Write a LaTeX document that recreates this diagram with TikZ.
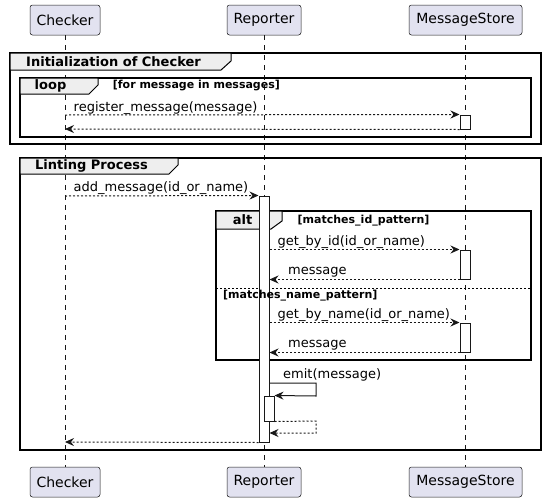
\documentclass[tikz,border=0pt]{standalone}
\usepackage{fontspec}
\setmainfont{DejaVu Sans}
\usetikzlibrary{arrows.meta}
\definecolor{partfill}{HTML}{E2E2F0}
\definecolor{ink}{HTML}{181818}
\definecolor{tabfill}{HTML}{EEEEEE}
\begin{document}
\begin{tikzpicture}[x=1pt,y=-1pt,
  part/.style={draw=ink, fill=partfill, rounded corners=2.5pt, line width=0.5pt, minimum height=30pt, inner sep=0pt, font=\fontsize{14}{16}\selectfont},
  life/.style={draw=ink, line width=0.5pt, dash pattern=on 5pt off 5pt},
  act/.style={draw=ink, fill=white, line width=1pt, inner sep=0pt, minimum width=10pt},
  frameb/.style={draw=black, line width=1.5pt},
  tabb/.style={draw=black, fill=tabfill, line width=1pt},
  ftitle/.style={font=\bfseries\fontsize{13}{15}\selectfont, inner sep=0pt},
  guard/.style={font=\bfseries\fontsize{11}{13}\selectfont, inner sep=0pt, anchor=west},
  msgtxt/.style={font=\fontsize{13}{15}\selectfont, inner sep=0pt, anchor=base west},
  tipstyle/.style={-{Stealth[length=9pt,width=8pt,inset=3pt]}},
  msg/.style={draw=ink, line width=1pt, dash pattern=on 2pt off 2pt, tipstyle},
  msgsolid/.style={draw=ink, line width=1pt, tipstyle}
]
\useasboundingbox (0,0) rectangle (546,501);

% participants
\node[part, minimum width=70pt] (cT) at (65,20) {Checker};
\node[part, minimum width=74pt] (rT) at (264,20) {Reporter};
\node[part, minimum width=113pt] (mT) at (465.5,20) {MessageStore};
\node[part, minimum width=70pt] (cB) at (65,482) {Checker};
\node[part, minimum width=74pt] (rB) at (264,482) {Reporter};
\node[part, minimum width=113pt] (mB) at (465.5,482) {MessageStore};

% lifelines
\draw[life] (cT.south) -- (cB.north);
\draw[life] (rT.south) -- (rB.north);
\draw[life] (mT.south) -- (mB.north);

% group: Initialization of Checker
\draw[frameb] (10,53) rectangle (541,144);
\draw[tabb] (10,53) -- (231,53) -- (231,61) -- (221,70) -- (10,70) -- cycle;
\node[ftitle, anchor=west] (tInit) at (26,62) {Initialization of Checker};

% loop
\draw[frameb] (20,78) rectangle (531,137);
\draw[tabb] (20,78) -- (98,78) -- (98,85) -- (89,94) -- (20,94) -- cycle;
\node[ftitle] (tLoop) at (50.5,86) {loop};
\node[guard] (gLoop) at (112.7,86) {[for message in messages]};

% group: Linting Process
\draw[frameb] (20,158) rectangle (541,450);
\draw[tabb] (20,158) -- (178,158) -- (178,165) -- (169,174) -- (20,174) -- cycle;
\node[ftitle, anchor=west] (tLint) at (35,166) {Linting Process};

% alt
\draw[frameb] (216,211) rectangle (531,360);
\draw[tabb] (216,211) -- (282,211) -- (282,221) -- (271,229) -- (216,229) -- cycle;
\node[ftitle] (tAlt) at (242.5,220) {alt};
\node[guard] (gAlt1) at (297.5,221) {[matches\_id\_pattern]};
\draw[draw=black, line width=1pt, dash pattern=on 2pt off 2pt] (216,288) -- (531,288);

% activations
\node[act, minimum height=14pt] (a1) at (465,122) {};
\node[act, minimum height=246pt] (a2) at (264,319) {};
\node[act, minimum height=29pt] (a3) at (465,264.5) {};
\node[act, minimum height=29pt] (a4) at (465,337.5) {};
\node[act, minimum height=25pt] (a5) at (269,408.5) {};

\node[guard] (gAlt2) at (223,296) {[matches\_name\_pattern]};

% coordinates on Checker lifeline
\coordinate (c1) at (65,115);
\coordinate (c2) at (65,129);
\coordinate (c3) at (65,196);
\coordinate (c4) at (65,442);
\coordinate (e1) at (316,383);
\coordinate (e2) at (316,396);
\coordinate (e3) at (316,421);
\coordinate (e4) at (316,433);

% messages
\draw[msg] (c1) -- (a1.north west);
\node[msgtxt] (m1) at (73.5,111) {register\_message(message)};
\draw[msg] (a1.south west) -- (c2);

\draw[msg] (c3) -- (a2.north west);
\node[msgtxt] (m2) at (73.5,191.5) {add\_message(id\_or\_name)};

\draw[msg] (a2.east |- a3.north) -- (a3.north west);
\node[msgtxt] (m3) at (277.5,245.5) {get\_by\_id(id\_or\_name)};
\draw[msg] (a3.south west) -- (a2.east |- a3.south);
\node[msgtxt] (m4) at (288,274.5) {message};

\draw[msg] (a2.east |- a4.north) -- (a4.north west);
\node[msgtxt] (m5) at (277.5,318.5) {get\_by\_name(id\_or\_name)};
\draw[msg] (a4.south west) -- (a2.east |- a4.south);
\node[msgtxt] (m6) at (288,347.5) {message};

\draw[msgsolid] (a2.east |- e1) -- (e1) -- (e2) -- (a5.north east);
\node[msgtxt] (m7) at (283,378.5) {emit(message)};
\draw[msg] (a5.south east) -- (e3) -- (e4) -- (a2.east |- e4);

\draw[msg] (a2.south west) -- (c4);
\end{tikzpicture}
\end{document}
